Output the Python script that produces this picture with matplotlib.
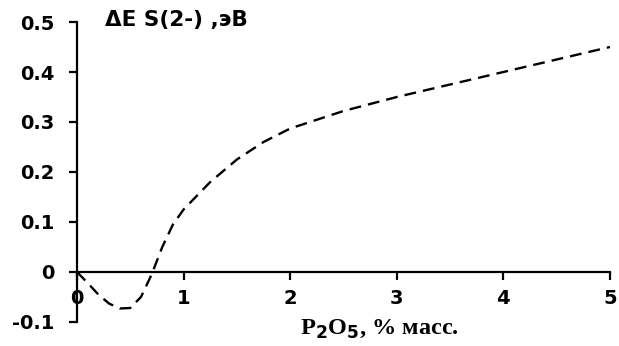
import matplotlib
matplotlib.use("Agg")
import matplotlib.pyplot as plt

# Mass fraction of P2O5 (%) and the shift of the S(2-) level (eV)
p2o5 = [0.0, 0.1, 0.2, 0.3, 0.4, 0.5, 0.6, 0.7, 0.8, 0.9, 1.0, 1.25, 1.5,
        1.75, 2.0, 2.5, 3.0, 3.5, 4.0, 4.5, 5.0]
delta_e = [0.0, -0.022, -0.045, -0.063, -0.073, -0.072, -0.050, -0.005,
           0.050, 0.095, 0.125, 0.180, 0.225, 0.260, 0.287, 0.322, 0.350,
           0.375, 0.400, 0.425, 0.450]

x_ticks = [0, 1, 2, 3, 4, 5]
y_ticks = [-0.1, 0.0, 0.1, 0.2, 0.3, 0.4, 0.5]
y_labels = ["-0.1", "0", "0.1", "0.2", "0.3", "0.4", "0.5"]

fig = plt.figure(figsize=(6.19, 3.46), dpi=100)
ax = fig.add_axes([0.1244, 0.0694, 0.861, 0.867])

ax.plot(p2o5, delta_e, color="black", lw=1.7, linestyle=(0, (5, 3)))

ax.set_xlim(0, 5)
ax.set_ylim(-0.1, 0.5)

ax.spines["top"].set_visible(False)
ax.spines["right"].set_visible(False)
ax.spines["bottom"].set_position(("data", 0))
for s in ("left", "bottom"):
    ax.spines[s].set_linewidth(1.6)

ax.set_xticks(x_ticks)
ax.set_xticklabels([str(v) for v in x_ticks])
ax.set_yticks(y_ticks)
ax.set_yticklabels(y_labels)
ax.tick_params(axis="both", direction="out", length=6, width=1.6,
               labelsize=14)
ax.tick_params(axis="x", pad=6)
ax.tick_params(axis="y", pad=10)
for lab in ax.get_xticklabels() + ax.get_yticklabels():
    lab.set_fontweight("bold")
    lab.set_family("DejaVu Sans")

fig.text(105 / 619, 1 - 20 / 346, "ΔE S(2-) ,эВ",
         fontsize=15.5, fontweight="bold", family="DejaVu Sans",
         ha="left", va="center")
fig.text(300 / 619, 1 - 329 / 346, "P$_\\mathbf{2}$O$_\\mathbf{5}$, % масс.",
         fontsize=17.5, fontweight="bold", family="Liberation Serif",
         ha="left", va="center")

fig.savefig("out.png", dpi=100)
